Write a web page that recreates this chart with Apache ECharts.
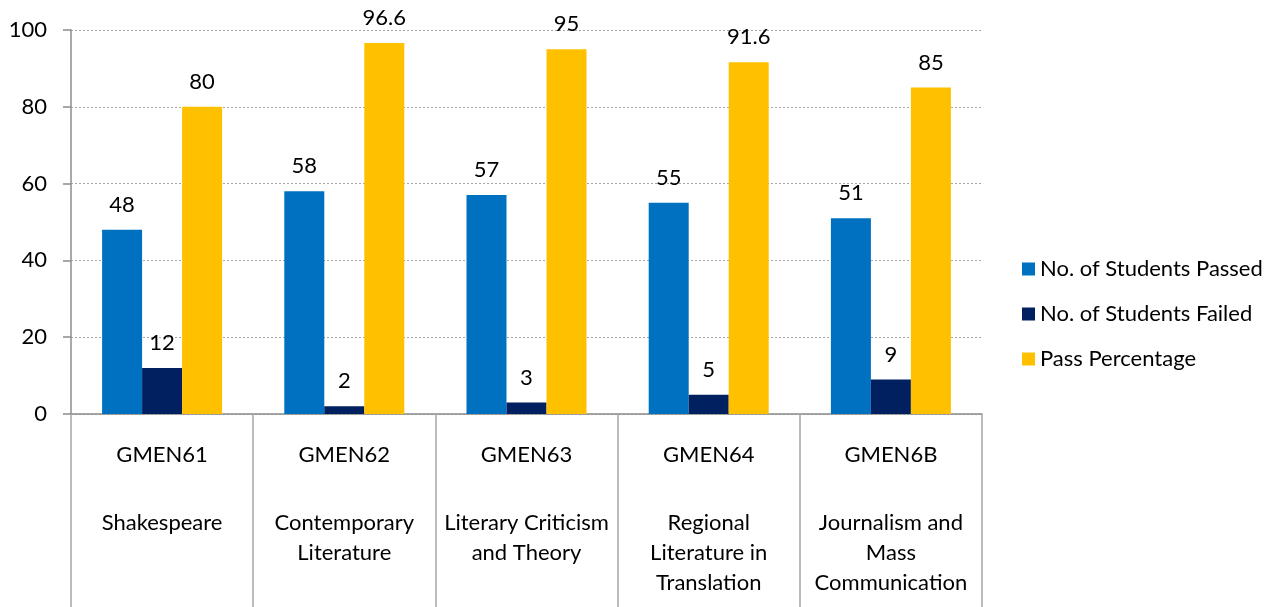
<!DOCTYPE html>
<html>
<head>
<meta charset="utf-8">
<title>Course results</title>
<script src="https://cdn.jsdelivr.net/npm/echarts@6/dist/echarts.min.js"></script>
<style>
  html, body { margin: 0; padding: 0; background: #fff; }
  #chart { width: 1278px; height: 607px; }
</style>
</head>
<body>
<div id="chart"></div>
<script>
/**
 * 数据
 */
const courseCodes = ['GMEN61', 'GMEN62', 'GMEN63', 'GMEN64', 'GMEN6B'];
const courseNames = [
  'Shakespeare',
  'Contemporary\nLiterature',
  'Literary Criticism\nand Theory',
  'Regional\nLiterature in\nTranslation',
  'Journalism and\nMass\nCommunication',
];
const passedData = [48, 58, 57, 55, 51];
const failedData = [12, 2, 3, 5, 9];
const passPctData = [80, 96.6, 95, 91.6, 85];

const FONT = 'Lato, "Open Sans", sans-serif';
const FS = 22;
const AXIS_GREY = '#8c8c8c';

const chartInstance = echarts.init(document.getElementById('chart'));

/**
 * 柱子公共样式
 */
const barSeries = (name, data, color) => ({
  name,
  type: 'bar',
  data,
  barWidth: 40,
  barGap: '0%',
  itemStyle: { color },
  label: {
    show: true,
    position: 'top',
    distance: 14,
    color: '#000',
    fontSize: FS,
    fontFamily: FONT,
  },
});

const option = {
  animation: false,
  textStyle: { fontFamily: FONT },
  grid: {
    left: 71,
    right: 296,
    top: 30,
    bottom: 193,
  },
  legend: {
    orient: 'vertical',
    left: 1017,
    top: 253,
    itemWidth: 13,
    itemHeight: 13,
    itemGap: 23,
    icon: 'rect',
    textStyle: { fontSize: FS, color: '#000', fontFamily: FONT },
    data: ['No. of Students Passed', 'No. of Students Failed', 'Pass Percentage'],
  },
  xAxis: [
    {
      type: 'category',
      data: courseCodes,
      boundaryGap: true,
      axisLine: { lineStyle: { color: AXIS_GREY, width: 1.5 } },
      axisTick: {
        show: true,
        length: 193,
        lineStyle: { color: '#a6a6a6', width: 1.5 },
      },
      axisLabel: {
        interval: 0,
        margin: 26,
        fontSize: FS,
        lineHeight: 30,
        color: '#000',
        fontFamily: FONT,
      },
    },
    {
      type: 'category',
      data: courseNames,
      position: 'bottom',
      axisLine: { show: false },
      axisTick: { show: false },
      axisLabel: {
        interval: 0,
        margin: 94,
        fontSize: FS,
        lineHeight: 30,
        color: '#000',
        fontFamily: FONT,
      },
    },
  ],
  yAxis: {
    type: 'value',
    min: 0,
    max: 100,
    interval: 20,
    axisLine: { show: true, lineStyle: { color: AXIS_GREY, width: 1.5 } },
    axisTick: { show: true, length: 8, lineStyle: { color: AXIS_GREY, width: 1.5 } },
    axisLabel: { margin: 24, fontSize: FS, color: '#000', fontFamily: FONT },
    splitLine: { lineStyle: { color: '#a6a6a6', type: [2, 2], width: 1 } },
  },
  series: [
    barSeries('No. of Students Passed', passedData, '#0070C0'),
    barSeries('No. of Students Failed', failedData, '#002060'),
    barSeries('Pass Percentage', passPctData, '#FFC000'),
  ],
};

chartInstance.setOption(option);

window.addEventListener('resize', () => chartInstance.resize());
</script>
</body>
</html>
